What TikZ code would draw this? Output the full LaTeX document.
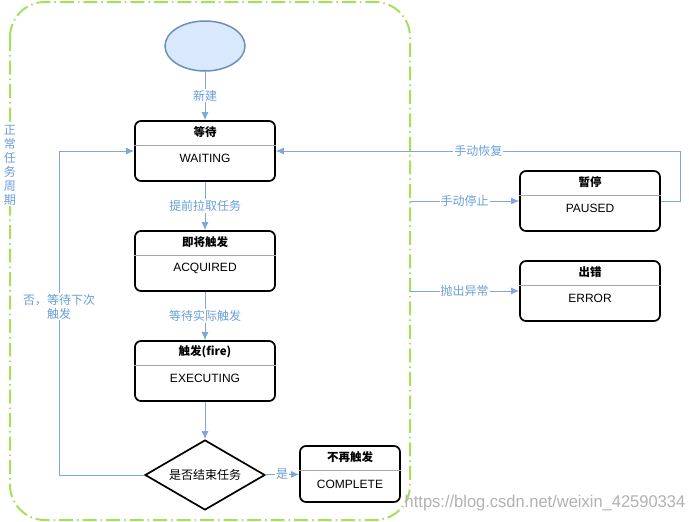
\documentclass[tikz,border=0pt]{standalone}
\usepackage{fontspec}
\setmainfont{Liberation Sans}
\newfontfamily\cjk{Noto Sans CJK SC}
\usetikzlibrary{arrows.meta,calc,positioning,shapes.geometric}
\definecolor{flowblue}{HTML}{7EA6E0}
\definecolor{labelblue}{HTML}{6A9FD8}
\definecolor{cyclegreen}{HTML}{A6E05A}
\definecolor{startfill}{HTML}{DAE8FC}
\definecolor{startline}{HTML}{6C8EBF}
% name, centre, title, state (optional width)
\newcommand{\statebox}[5][140]{%
	\node[statebox,minimum width=#1] (#2) at (#3) {};
	\node[statetitle] (#2t) at ($(#2.north)+(0,12)$) {#4};
	\node[statename] (#2n) at ($(#2.north)+(0,38)$) {#5};
	\draw[divider] ($(#2.north west)+(0,25)$) -- ($(#2.north east)+(0,25)$);
}

\begin{document}
\begin{tikzpicture}[x=1pt,y=-1pt,
	statebox/.style={draw=black,line width=1.7pt,rounded corners=6pt,
		minimum height=60pt,inner sep=0pt},
	statetitle/.style={font=\cjk\bfseries\fontsize{11.5}{13}\selectfont,inner sep=0pt},
	statename/.style={font=\fontsize{12}{13}\selectfont,inner sep=0pt},
	divider/.style={draw=gray!70,line width=0.6pt},
	flow/.style={draw=flowblue,line width=0.9pt,-{Latex[length=8pt,width=7pt]}},
	edgelabel/.style={fill=white,text=labelblue,inner sep=1pt,
		font=\cjk\fontsize{12}{14}\selectfont},
	cycle/.style={draw=cyclegreen,line width=2pt,rounded corners=35pt,
		dash pattern=on 14pt off 4pt on 1.5pt off 4pt}
]
	\useasboundingbox (0,0) rectangle (689,522);
	\fill[white] (0,0) rectangle (689,522);

	% normal task cycle
	\draw[cycle] (10,2) rectangle (410,520);
	\node[fill=white,text=labelblue,inner sep=1pt,align=center,
		font=\cjk\fontsize{12}{14}\selectfont] (cyclelabel) at (10,165)
		{正\\常\\任\\务\\周\\期};

	\node[ellipse,draw=startline,fill=startfill,line width=1.5pt,
		minimum width=80pt,minimum height=50pt] (start) at (205,46) {};

	\statebox{wait}{205,151}{等待}{WAITING}
	\statebox{acq}{205,261}{即将触发}{ACQUIRED}
	\statebox{exec}{205,371}{触发(fire)}{EXECUTING}
	\statebox{pause}{590,201}{暂停}{PAUSED}
	\statebox{err}{590,291}{出错}{ERROR}

	\node[statebox,minimum width=100pt,minimum height=56pt] (done) at (350,474) {};
	\node[statetitle] (donet) at ($(done.north)+(0,12)$) {不再触发};
	\node[statename] (donen) at ($(done.north)+(0,39)$) {COMPLETE};
	\draw[divider] ($(done.north west)+(0,25)$) -- ($(done.north east)+(0,25)$);

	\node[diamond,draw=black,line width=1.7pt,aspect=1.7,inner sep=0pt,
		minimum width=120pt,minimum height=70pt,
		font=\cjk\fontsize{12}{14}\selectfont] (decide) at (205,475) {是否结束任务};

	\coordinate (stopout) at (410,201);
	\coordinate (errout) at (410,291);

	\draw[flow] (start) -- node[edgelabel] {新建} (wait);
	\draw[flow] (wait) -- node[edgelabel] {提前拉取任务} (acq);
	\draw[flow] (acq) -- node[edgelabel] {等待实际触发} (exec);
	\draw[flow] (exec) -- (decide);
	\draw[flow] (decide.west) -- ++(-85,0) |- node[edgelabel,pos=0.26,align=center] {否，等待下次\\触发} (wait.west);
	\draw[flow] (decide) -- node[edgelabel] {是} (done);
	\draw[flow] (stopout) -- node[edgelabel] {手动停止} (pause);
	\draw[flow] (pause.east) -- ++(20,0) |- node[edgelabel,pos=0.75] {手动恢复} (wait.east);
	\draw[flow] (errout) -- node[edgelabel] {抛出异常} (err);

	\node[text=black!30,font=\fontsize{17}{17}\selectfont,inner sep=0pt] (mark) at (545,503)
		{\scalebox{0.97}[1]{https://blog.csdn.net/weixin\_42590334}};
\end{tikzpicture}
\end{document}
